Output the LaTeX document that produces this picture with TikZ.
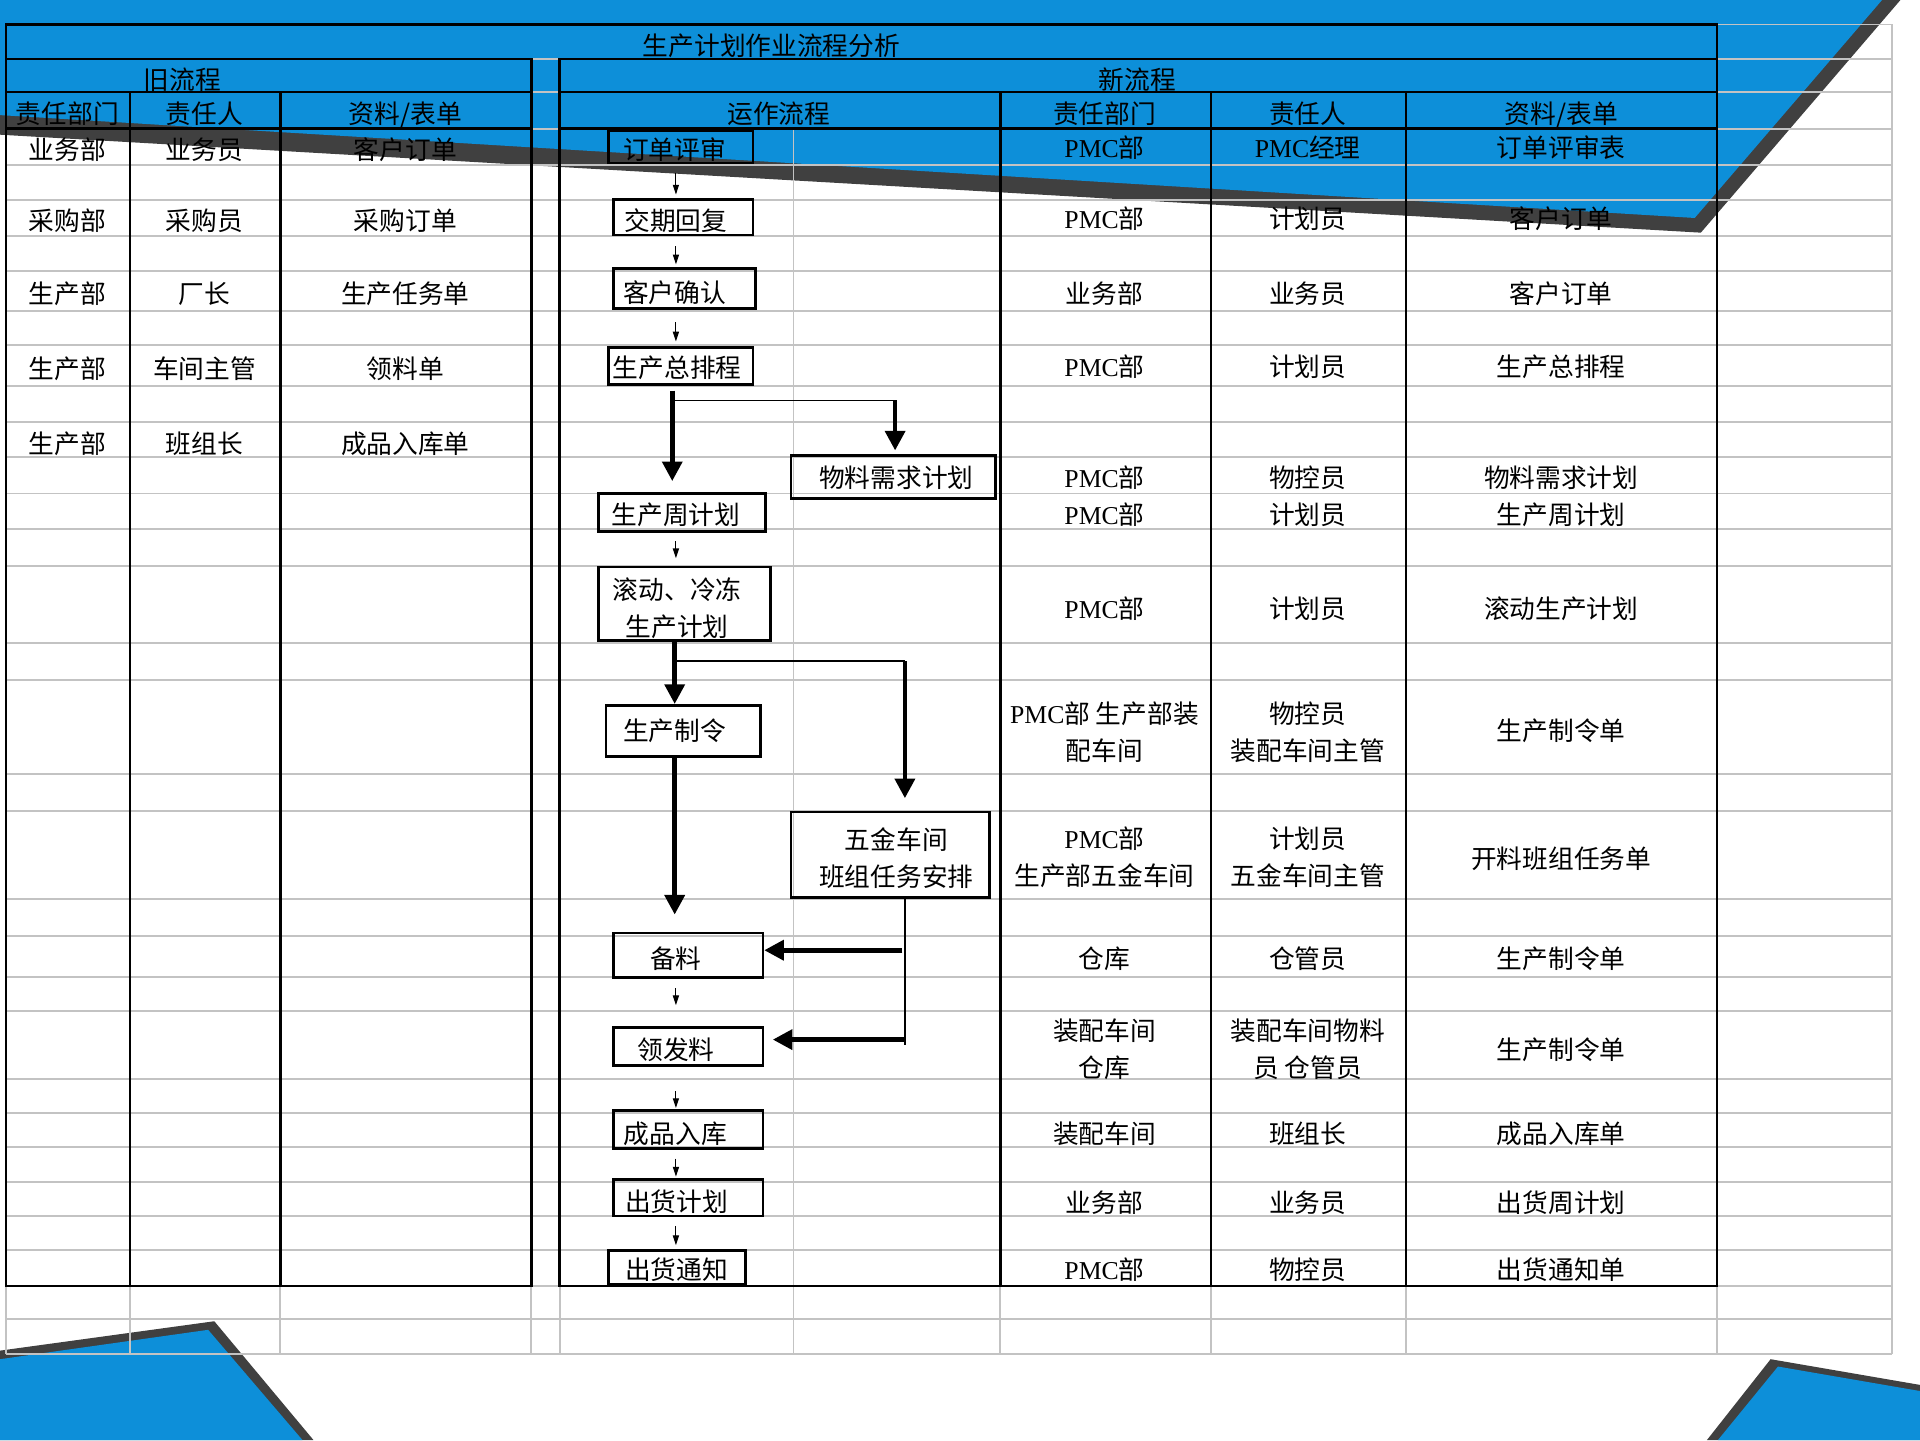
\documentclass[tikz,border=0pt]{standalone}
\usepackage{fontspec}
\setmainfont{Noto Sans CJK SC}
\newfontfamily\latf{Liberation Serif}
\usetikzlibrary{arrows.meta}
\definecolor{bgblue}{HTML}{0D8FD9}
\definecolor{bgdark}{HTML}{404040}
\definecolor{gridgrey}{HTML}{C3C3C3}
\newcommand\pmc{{\latf PMC}}
\newcommand\fsz{\fontsize{21pt}{30pt}\selectfont}
\begin{document}
\begin{tikzpicture}[x=1pt,y=-1pt,
  gridl/.style={draw=gridgrey, line width=1.6pt},
  tabl/.style={draw=black, line width=2pt, line cap=rect},
  box/.style={draw=black, line width=2.2pt, inner sep=0pt},
  cell/.style={font=\fsz, inner sep=0pt, text height=18pt, text depth=2pt},
  mcell/.style={font=\fsz, inner sep=0pt, align=center},
  fat/.style={line width=3.8pt, -{Triangle[width=16pt,length=16pt]}},
  thinarr/.style={line width=0.9pt, -{Triangle[width=5pt,length=8pt]}},
  branch/.style={line width=1.4pt}]
\useasboundingbox (0,0) rectangle (1568,1176);
\fill[white] (0,0) rectangle (1568,1176);
% background shapes
\fill[bgdark] (0,0) -- (1552,0) -- (1389,190) -- (0,110) -- cycle;
\fill[bgblue] (0,0) -- (1537,0) -- (1384,178) -- (0,94) -- cycle;
\fill[bgdark] (0,1103) -- (175,1079) -- (256,1176) -- (0,1176) -- cycle;
\fill[bgblue] (0,1110) -- (170,1086) -- (247,1176) -- (0,1176) -- cycle;
\fill[bgdark] (1394,1176) -- (1446,1110) -- (1568,1131) -- (1568,1176) -- cycle;
\fill[bgblue] (1403,1176) -- (1452,1116) -- (1568,1136) -- (1568,1176) -- cycle;
% grey grid
\foreach \y in {20,48,75,105,135,163,193,221,254,282,315,345,373,403,432,462,525,555,632,662,734,764,798,826,881,909,937,965,993,1021,1050,1077,1106}
  \draw[gridl] (5,\y) -- (1545,\y);
\foreach \x in {5,1402,1545} \draw[gridl] (\x,20) -- (\x,1106);
\foreach \x in {434,457} \draw[gridl] (\x,48) -- (\x,1106);
\foreach \x in {106,229,817,989,1148} \draw[gridl] (\x,75) -- (\x,1106);
\draw[gridl] (648,105) -- (648,1106);
% black table
\draw[tabl] (5,20) -- (1402,20);
\foreach \y in {48,75,105,1050} {
  \draw[tabl] (5,\y) -- (434,\y);
  \draw[tabl] (457,\y) -- (1402,\y);
}
\draw[tabl] (5,20) -- (5,1050);
\draw[tabl] (1402,20) -- (1402,1050);
\foreach \x in {434,457} \draw[tabl] (\x,48) -- (\x,1050);
\foreach \x in {106,229,817,989,1148} \draw[tabl] (\x,75) -- (\x,1050);
% headers
\node[cell] (title) at (630,37.5) {生产计划作业流程分析};
\node[cell] (hold) at (149,65) {旧流程};
\node[cell] (hnew) at (929,65) {新流程};
\node[cell] (h1) at (55,93) {责任部门};
\node[cell] (h2) at (167,93) {责任人};
\node[cell] (h3) at (331,93) {资料/表单};
\node[cell] (h4) at (636,93) {运作流程};
\node[cell] (h5) at (902,93) {责任部门};
\node[cell] (h6) at (1068,93) {责任人};
\node[cell] (h7) at (1275,93) {资料/表单};
% old process rows
\foreach \y/\a/\b/\c [count=\i] in {122.5/业务部/业务员/客户订单,180.5/采购部/采购员/采购订单,240/生产部/厂长/生产任务单,301/生产部/车间主管/领料单,362/生产部/班组长/成品入库单} {
  \node[cell] (oa\i) at (55,\y) {\a};
  \node[cell] (ob\i) at (167,\y) {\b};
  \node[cell] (oc\i) at (331,\y) {\c};
}
% new process rows
\foreach \y/\a/\b/\c [count=\i] in {120.6/\pmc 部/\pmc 经理/订单评审表,178.5/\pmc 部/计划员/客户订单,239.6/业务部/业务员/客户订单,299.5/\pmc 部/计划员/生产总排程,390/\pmc 部/物控员/物料需求计划,420/\pmc 部/计划员/生产周计划,497/\pmc 部/计划员/滚动生产计划,783/仓库/仓管员/生产制令单,925.5/装配车间/班组长/成品入库单,982/业务部/业务员/出货周计划,1036.7/\pmc 部/物控员/出货通知单} {
  \node[cell] (na\i) at (902,\y) {\a};
  \node[cell] (nb\i) at (1068,\y) {\b};
  \node[cell] (nc\i) at (1275,\y) {\c};
}
\node[mcell] (m1a) at (902,598) {\pmc 部 生产部装\\配车间};
\node[mcell] (m1b) at (1068,598) {物控员\\装配车间主管};
\node[cell] (m1c) at (1275,597) {生产制令单};
\node[mcell] (m2a) at (902,700) {\pmc 部\\生产部五金车间};
\node[mcell] (m2b) at (1068,700) {计划员\\五金车间主管};
\node[cell] (m2c) at (1275,701) {开料班组任务单};
\node[mcell] (m3a) at (902,857) {装配车间\\仓库};
\node[mcell] (m3b) at (1068,857) {装配车间物料\\员 仓管员};
\node[cell] (m3c) at (1275,857) {生产制令单};
% flow boxes
\node[box, minimum width=118pt, minimum height=26pt] (b1) at (556,120) {};
\node[box, minimum width=114pt, minimum height=29pt] (b2) at (558,177.5) {};
\node[box, minimum width=116pt, minimum height=33pt] (b3) at (559,235.5) {};
\node[box, minimum width=118pt, minimum height=30pt] (b4) at (556,299) {};
\node[box, minimum width=167pt, minimum height=35pt] (b5) at (729.5,389.5) {};
\node[box, minimum width=136pt, minimum height=31pt] (b6) at (557,418.5) {};
\node[box, minimum width=140pt, minimum height=60pt] (b7) at (559,493) {};
\node[box, minimum width=126pt, minimum height=42pt] (b8) at (558,597) {};
\node[box, minimum width=162pt, minimum height=70pt] (b9) at (727,698) {};
\node[box, minimum width=122pt, minimum height=36pt] (b10) at (562,780) {};
\node[box, minimum width=122pt, minimum height=31pt] (b11) at (562,854.5) {};
\node[box, minimum width=122pt, minimum height=31pt] (b12) at (562,922.5) {};
\node[box, minimum width=122pt, minimum height=30pt] (b13) at (562,978) {};
\node[box, minimum width=112pt, minimum height=28pt] (b14) at (553,1035) {};
% box texts
\node[cell] (t1) at (551,122) {订单评审};
\node[cell] (t2) at (552,180) {交期回复};
\node[cell] (t3) at (551,239) {客户确认};
\node[cell] (t4) at (553,300) {生产总排程};
\node[cell] (t5) at (732,390) {物料需求计划};
\node[cell] (t6) at (552,420) {生产周计划};
\node[mcell] (t7) at (553,496.5) {滚动、冷冻\\生产计划};
\node[cell] (t8) at (551,597) {生产制令};
\node[mcell] (t9) at (732,701) {五金车间\\班组任务安排};
\node[cell] (t10) at (552,783) {备料};
\node[cell] (t11) at (552,857) {领发料};
\node[cell] (t12) at (551.5,926) {成品入库};
\node[cell] (t13) at (552.5,981) {出货计划};
\node[cell] (t14) at (552.5,1037) {出货通知};
% connector coordinates
\coordinate (ca) at (552,0);
\coordinate (cb) at (549,0);
\coordinate (cc) at (551,0);
\coordinate (j1) at (549,327);
\coordinate (j1r) at (731,327);
\coordinate (j2) at (551,540);
\coordinate (j2r) at (739,540);
\coordinate (j3) at (739,853);
\coordinate (j4) at (737,776);
\coordinate (j5) at (739,849);
% thin arrows
\draw[thinarr, shorten <=7pt, shorten >=3pt] (b1.south -| ca) -- (b2.north -| ca);
\draw[thinarr, shorten <=8pt, shorten >=2pt] (b2.south -| ca) -- (b3.north -| ca);
\draw[thinarr, shorten <=10pt, shorten >=4pt] (b3.south -| ca) -- (b4.north -| ca);
\draw[thinarr, shorten <=7pt, shorten >=6pt] (b6.south -| ca) -- (b7.north -| ca);
\draw[thinarr, shorten <=8pt, shorten >=17pt] (b10.south -| ca) -- (b11.north -| ca);
\draw[thinarr, shorten <=20pt, shorten >=1pt] (b11.south -| ca) -- (b12.north -| ca);
\draw[thinarr, shorten <=7pt, shorten >=1pt] (b12.south -| ca) -- (b13.north -| ca);
\draw[thinarr, shorten <=7pt, shorten >=3pt] (b13.south -| ca) -- (b14.north -| ca);
% thick arrows and branches
\draw[fat, shorten <=4pt, shorten >=9pt] (b4.south -| cb) -- (b6.north -| cb);
\draw[branch] (j1) -- (j1r);
\draw[fat, shorten >=3pt] (j1r) -- (b5.north -| j1r);
\draw[fat] (b7.south -| cc) -- (b8.north -| cc);
\draw[branch] (j2) -- (j2r);
\draw[fat, shorten >=10pt] (j2r) -- (b9.north -| j2r);
\draw[fat, shorten >=14pt] (b8.south -| cc) -- (b10.north -| cc);
\draw[branch] (b9.south -| j2r) -- (j3);
\draw[fat] (j4) -- (b10.east |- j4);
\draw[fat, shorten >=7pt] (j5) -- (b11.east |- j5);
\end{tikzpicture}
\end{document}
